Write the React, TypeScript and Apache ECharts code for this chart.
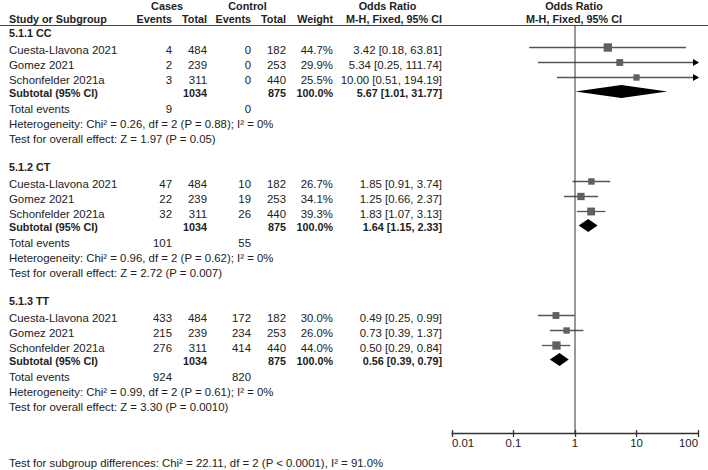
import React, { useEffect, useRef } from "react";
import * as echarts from "echarts";

const groups = ["5.1.1 CC", "5.1.2 CT", "5.1.3 TT"];
const studies = ["Cuesta-Llavona 2021", "Gomez 2021", "Schonfelder 2021a"];
const caseEvents = [[4, 2, 3], [47, 22, 32], [433, 215, 276]];
const caseTotals = [484, 239, 311];
const ctrlEvents = [[0, 0, 0], [10, 19, 26], [172, 234, 414]];
const ctrlTotals = [182, 253, 440];
const weights = [[44.7, 29.9, 25.5], [26.7, 34.1, 39.3], [30.0, 26.0, 44.0]];
const orVals = [[3.42, 5.34, 10.0], [1.85, 1.25, 1.83], [0.49, 0.73, 0.5]];
const ciLow = [[0.18, 0.25, 0.51], [0.91, 0.66, 1.07], [0.25, 0.39, 0.29]];
const ciHigh = [[63.81, 111.74, 194.19], [3.74, 2.37, 3.13], [0.99, 1.37, 0.84]];
const subOR = [5.67, 1.64, 0.56];
const subLow = [1.01, 1.15, 0.39];
const subHigh = [31.77, 2.33, 0.79];
const subCaseTotal = 1034;
const subCtrlTotal = 875;
const totalCaseEvents = [9, 101, 924];
const totalCtrlEvents = [0, 55, 820];
const hetChi = ["0.26", "0.96", "0.99"];
const hetP = ["0.88", "0.62", "0.61"];
const overallZ = ["1.97", "2.72", "3.30"];
const overallP = ["0.05", "0.007", "0.0010"];
const tickLabels = ["0.01", "0.1", "1", "10", "100"];
const subgroupDiff = "Test for subgroup differences: Chi\u00b2 = 22.11, df = 2 (P < 0.0001), I\u00b2 = 91.0%";

// layout
const W = 708, H = 470;
const GROUP_TOP = [33, 167, 301];
const STUDY_OFF = [16.5, 31.5, 46.5];
const SUB_OFF = 60, TOT_OFF = 76, HET_OFF = 91, TEST_OFF = 105.5;
const AXIS_Y = 433;
const PLOT_LEFT = 452, PLOT_RIGHT = 698;
const FONT = "Liberation Sans, Arial, sans-serif";
const TXT = "#222";

export default function App() {
  const ref = useRef<HTMLDivElement>(null);
  useEffect(() => {
    if (!ref.current) return;
    const chart = echarts.init(ref.current, null, { renderer: "svg", width: W, height: H });

    const graphics: any[] = [];
    const t = (text: string, x: number, y: number, align = "left", bold = false) => {
      graphics.push({
        type: "text",
        silent: true,
        style: {
          text,
          x,
          y,
          fill: TXT,
          fontFamily: FONT,
          fontSize: bold ? 10.8 : 11.4,
          fontWeight: bold ? "bold" : "normal",
          align,
          verticalAlign: "middle",
        },
      });
    };

    // header
    t("Cases", 167, 5.5, "center", true);
    t("Control", 247.5, 5.5, "center", true);
    t("Odds Ratio", 387.5, 5.5, "center", true);
    t("Odds Ratio", 574, 5.5, "center", true);
    t("Study or Subgroup", 9, 19, "left", true);
    t("Events", 172, 19, "right", true);
    t("Total", 207, 19, "right", true);
    t("Events", 251, 19, "right", true);
    t("Total", 286, 19, "right", true);
    t("Weight", 333, 19, "right", true);
    t("M-H, Fixed, 95% CI", 442, 19, "right", true);
    t("M-H, Fixed, 95% CI", 574, 19, "center", true);
    graphics.push({
      type: "line",
      silent: true,
      shape: { x1: 0, y1: 25.5, x2: W, y2: 25.5 },
      style: { stroke: "#444", lineWidth: 1.2 },
    });

    const ciText = (o: number, l: number, h: number) =>
      `${o.toFixed(2)} [${l.toFixed(2)}, ${h.toFixed(2)}]`;

    const studyData: any[] = [];
    const subData: any[] = [];
    groups.forEach((g, gi) => {
      const top = GROUP_TOP[gi];
      t(g, 9, top, "left", true);
      studies.forEach((s, si) => {
        const y = top + STUDY_OFF[si];
        t(s, 9, y);
        t(String(caseEvents[gi][si]), 172, y, "right");
        t(String(caseTotals[si]), 207, y, "right");
        t(String(ctrlEvents[gi][si]), 251, y, "right");
        t(String(ctrlTotals[si]), 286, y, "right");
        t(weights[gi][si].toFixed(1) + "%", 333, y, "right");
        t(ciText(orVals[gi][si], ciLow[gi][si], ciHigh[gi][si]), 442, y, "right");
        studyData.push([orVals[gi][si], ciLow[gi][si], ciHigh[gi][si], y - 2, weights[gi][si]]);
      });
      const ys = top + SUB_OFF;
      t("Subtotal (95% CI)", 9, ys, "left", true);
      t(String(subCaseTotal), 207, ys, "right", true);
      t(String(subCtrlTotal), 286, ys, "right", true);
      t("100.0%", 333, ys, "right", true);
      t(ciText(subOR[gi], subLow[gi], subHigh[gi]), 442, ys, "right", true);
      subData.push([subOR[gi], subLow[gi], subHigh[gi], ys - 1.5]);
      const yt = top + TOT_OFF;
      t("Total events", 9, yt);
      t(String(totalCaseEvents[gi]), 172, yt, "right");
      t(String(totalCtrlEvents[gi]), 251, yt, "right");
      t(`Heterogeneity: Chi\u00b2 = ${hetChi[gi]}, df = 2 (P = ${hetP[gi]}); I\u00b2 = 0%`, 9, top + HET_OFF);
      t(`Test for overall effect: Z = ${overallZ[gi]} (P = ${overallP[gi]})`, 9, top + TEST_OFF);
    });
    t(subgroupDiff, 9, 463);

    const XMIN = 0.01, XMAX = 100;

    const option: any = {
      animation: false,
      grid: { left: PLOT_LEFT, right: W - PLOT_RIGHT, top: 0, height: AXIS_Y, containLabel: false },
      xAxis: [
        {
          type: "log",
          logBase: 10,
          min: XMIN,
          max: XMAX,
          position: "bottom",
          axisLine: { show: true, onZero: false, lineStyle: { color: "#333", width: 1.3 } },
          axisTick: { show: true, length: 4, lineStyle: { color: "#333", width: 1.3 } },
          axisLabel: {
            show: true,
            margin: 4,
            fontSize: 11.4,
            fontFamily: FONT,
            color: TXT,
            alignMinLabel: "left",
            alignMaxLabel: "right",
            formatter: (v: number) => tickLabels[Math.round(Math.log10(v)) + 2],
          },
          splitLine: { show: false },
        },
        {
          type: "log",
          logBase: 10,
          min: XMIN,
          max: XMAX,
          position: "bottom",
          offset: 0,
          axisLine: { show: false, onZero: false },
          axisTick: { show: true, inside: true, length: 3, lineStyle: { color: "#333", width: 1.3 } },
          axisLabel: { show: false },
          splitLine: { show: false },
        },
      ],
      yAxis: { type: "value", min: 0, max: AXIS_Y, inverse: true, show: false },
      graphic: graphics,
      series: [
        {
          type: "line",
          data: [[1, 26], [1, AXIS_Y]],
          symbol: "none",
          silent: true,
          lineStyle: { color: "#333", width: 1 },
        },
        {
          type: "custom",
          silent: true,
          data: studyData,
          encode: { x: [0, 1, 2], y: 3 },
          renderItem: (params: any, api: any) => {
            const o = api.value(0), lo = api.value(1), hi = api.value(2), y = api.value(3), w = api.value(4);
            const p0 = api.coord([Math.max(lo, XMIN), y]);
            const p1 = api.coord([Math.min(hi, XMAX), y]);
            const pc = api.coord([o, y]);
            const s = 1.25 * Math.sqrt(w);
            const children: any[] = [
              {
                type: "line",
                shape: { x1: p0[0], y1: p0[1], x2: p1[0], y2: p1[1] },
                style: { stroke: "#555", lineWidth: 1.3 },
              },
              {
                type: "rect",
                shape: { x: pc[0] - s / 2, y: pc[1] - s / 2, width: s, height: s },
                style: { fill: "#606060" },
              },
            ];
            if (hi > XMAX) {
              children.push({
                type: "polygon",
                shape: { points: [[p1[0] + 1, p1[1]], [p1[0] - 5, p1[1] - 3.5], [p1[0] - 5, p1[1] + 3.5]] },
                style: { fill: "#000" },
              });
            }
            if (lo < XMIN) {
              children.push({
                type: "polygon",
                shape: { points: [[p0[0] - 1, p0[1]], [p0[0] + 5, p0[1] - 3.5], [p0[0] + 5, p0[1] + 3.5]] },
                style: { fill: "#000" },
              });
            }
            return { type: "group", children };
          },
        },
        {
          type: "custom",
          silent: true,
          data: subData,
          encode: { x: [0, 1, 2], y: 3 },
          renderItem: (params: any, api: any) => {
            const o = api.value(0), lo = api.value(1), hi = api.value(2), y = api.value(3);
            const pl = api.coord([lo, y]);
            const ph = api.coord([hi, y]);
            const pc = api.coord([o, y]);
            const hh = 6.5;
            return {
              type: "polygon",
              shape: { points: [[pl[0], pl[1]], [pc[0], pc[1] - hh], [ph[0], ph[1]], [pc[0], pc[1] + hh]] },
              style: { fill: "#000" },
            };
          },
        },
      ],
    };
    chart.setOption(option);
    return () => chart.dispose();
  }, []);
  return (
    <div
      ref={ref}
      style={{ position: "fixed", left: 0, top: 0, width: W, height: H, background: "#fff" }}
    />
  );
}
